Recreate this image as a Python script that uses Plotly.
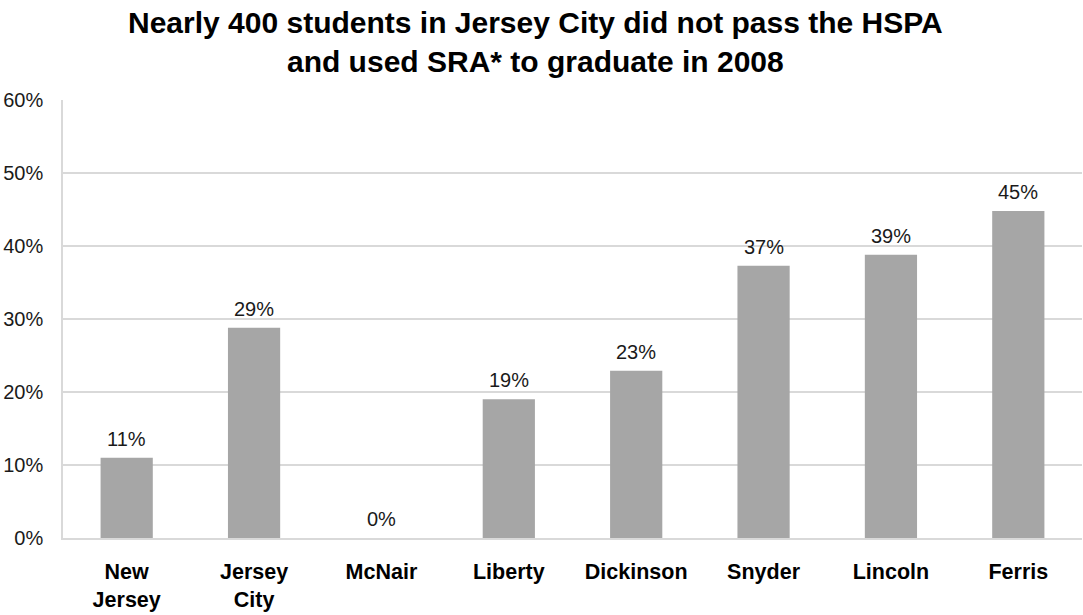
import plotly.graph_objects as go

categories = ["New<br>Jersey", "Jersey<br>City", "McNair", "Liberty", "Dickinson", "Snyder", "Lincoln", "Ferris"]
values = [0.11, 0.288, 0.0, 0.19, 0.229, 0.373, 0.388, 0.448]
labels = ["11%", "29%", "0%", "19%", "23%", "37%", "39%", "45%"]
y_ticks = [0, 0.1, 0.2, 0.3, 0.4, 0.5, 0.6]
y_ticktext = ["0%", "10%", "20%", "30%", "40%", "50%", "60%"]
title_text = "<b>Nearly 400 students in Jersey City did not pass the HSPA<br>and used SRA* to graduate in 2008</b>"

FONT = "Liberation Sans, Arial, sans-serif"

fig = go.Figure()
fig.add_trace(go.Bar(
    x=categories, y=values,
    marker=dict(color="#a6a6a6", line=dict(width=0)),
    width=0.41,
    hoverinfo="skip",
))

for c, v, t in zip(categories, values, labels):
    fig.add_annotation(x=c, y=v, text=t, showarrow=False, yanchor="bottom",
                       yshift=6, font=dict(family=FONT, size=20, color="#1a1a1a"))

# chart title as a paper annotation (multi-line, centred over the chart)
fig.add_annotation(x=0.4632, y=1, xref="paper", yref="paper", xanchor="center",
                   yanchor="bottom", yshift=20, showarrow=False, text=title_text,
                   align="center", font=dict(family=FONT, size=30, color="#000000"))

fig.update_layout(
    width=1083, height=615,
    margin=dict(l=63, r=1, t=100, b=77, autoexpand=False),
    plot_bgcolor="white", paper_bgcolor="white",
    showlegend=False,
    font=dict(family=FONT),
)
fig.update_xaxes(
    showline=True, linecolor="#d9d9d9", linewidth=1.5,
    tickfont=dict(family=FONT, size=21.5, color="#000000", weight="bold"),
    ticks="", ticklabelstandoff=13, showgrid=False, automargin=False,
)
fig.update_yaxes(
    range=[0, 0.6], tickvals=y_ticks, ticktext=y_ticktext,
    showgrid=True, gridcolor="#d9d9d9", gridwidth=1.5,
    showline=True, linecolor="#d9d9d9", linewidth=1.5,
    zeroline=False, automargin=False,
    tickfont=dict(family=FONT, size=20, color="#1a1a1a"),
    ticks="", ticklabelstandoff=14,
)

fig.write_html("out.html")
